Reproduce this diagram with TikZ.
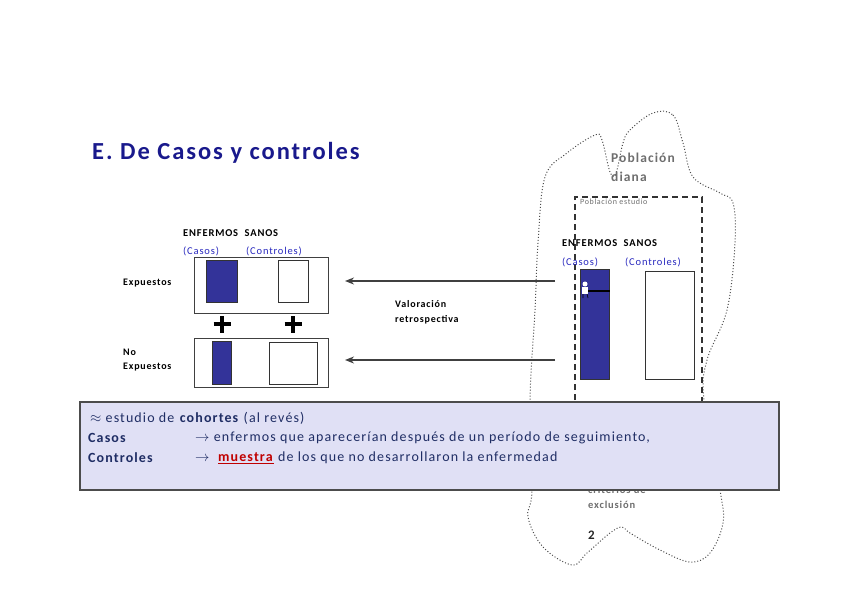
\documentclass[tikz,border=0pt]{standalone}
\usepackage{fontspec}
\setmainfont{Carlito}[LetterSpace=8]
\usetikzlibrary{positioning,arrows.meta}
\usepackage{xcolor}
\definecolor{titleblue}{RGB}{25,25,140}
\definecolor{casoblue}{RGB}{51,51,153}
\definecolor{labblue}{RGB}{40,40,190}
\definecolor{txtgray}{RGB}{110,110,110}
\definecolor{notefill}{RGB}{224,224,245}
\definecolor{notetxt}{RGB}{31,45,100}
\definecolor{darkred}{RGB}{192,0,0}

\begin{document}
\begin{tikzpicture}[x=1pt,y=-1pt,
      grp/.style={draw=black!75,line width=0.9pt,minimum width=134pt,inner sep=0pt},
      caso/.style={draw=black!80,fill=casoblue,line width=0.8pt,inner sep=0pt},
      control/.style={draw=black!80,fill=white,line width=0.8pt,inner sep=0pt},
      lab/.style={anchor=west,inner sep=0pt,align=left,font=\fontsize{10}{14.5}\selectfont\bfseries},
      sub/.style={anchor=west,inner sep=0pt,text=labblue,font=\fontsize{10.5}{12}\selectfont},
      gris/.style={anchor=north west,inner sep=0pt,align=left,text=txtgray,font=\fontsize{10.5}{15}\selectfont\bfseries},
      flecha/.style={-{Stealth[length=9pt,width=7pt]},draw=black!75,line width=2.2pt},
      mas/.style={line width=4pt,black},
      nota/.style={anchor=west,inner sep=0pt,text=notetxt,font=\fontsize{14}{16}\selectfont}
    ]
      \useasboundingbox (0,0) rectangle (848,599);
      % title
      \node[anchor=west,inner sep=0pt,text=titleblue,font=\fontsize{24.5}{28}\selectfont\bfseries] (title) at (92,153) {E. De Casos y controles};
      % poblacion diana / estudio
      \draw[dotted,line width=1pt,black!70] plot[smooth cycle,tension=0.6] coordinates {
        (653,113) (673,115) (683,143) (693,177) (720,193) (733,203) (735,243) (727,310)
        (707,360) (704,400) (720,490) (723,523) (710,553) (690,562) (660,550) (630,533)
        (622,527) (610,533) (587,553) (572,565) (543,547) (528,517) (532,490) (530,400)
        (535,310) (538,243) (545,177) (567,153) (595,135) (602,140) (610,172) (616,173)
        (623,143) (630,130)};
      \node[anchor=north west,inner sep=0pt,align=left,text=txtgray,font=\fontsize{13.5}{19}\selectfont\bfseries] (diana) at (611,153) {Población\\diana};
      \draw[dash pattern=on 6pt off 4pt,line width=1.1pt,black!80] (575,420) -- (575,197) -- (702,197) -- (702,420);
      \node[anchor=west,inner sep=0pt,text=txtgray,font=\fontsize{8}{9}\selectfont] (estudio) at (580,202) {Población estudio};
      \node[lab,font=\fontsize{10.5}{12}\selectfont\bfseries] (enf2) at (562,243) {ENFERMOS\ \ SANOS};
      \node[sub] (cas2) at (562,262) {(Casos)};
      \node[sub] (con2) at (625,262) {(Controles)};
      \node[caso,minimum width=29pt,minimum height=110pt] (bar2) at (594.5,324) {};
      \node[control,minimum width=49pt,minimum height=108pt] (ctl2) at (669.5,325) {};
      % little figure
      \draw[line width=2pt,black] (582,291) -- (610,291);
      \fill[white] (585,284) circle (2.5pt);
      \fill[white] (582,287) rectangle (588,294);
      \draw[black,line width=0.6pt] (583,294) -- (583,298) (587,294) -- (588,298);
      % grupos
      \node[lab,font=\fontsize{10.5}{12}\selectfont\bfseries] (enf1) at (183,233) {ENFERMOS\ \ SANOS};
      \node[sub] (cas1) at (183,251) {(Casos)};
      \node[sub] (con1) at (246,251) {(Controles)};
      \node[grp,minimum height=56pt] (expbox) at (261,285) {};
      \node[caso,minimum width=31pt,minimum height=42pt] (expcas) at (221.5,281) {};
      \node[control,minimum width=30pt,minimum height=42pt] (expcon) at (293,281) {};
      \node[grp,minimum height=49pt] (noexpbox) at (261,362.5) {};
      \node[caso,minimum width=19pt,minimum height=43pt] (noexpcas) at (221.5,362.5) {};
      \node[control,minimum width=48pt,minimum height=42pt] (noexpcon) at (293,363) {};
      \coordinate (mas1) at (222,324);
      \coordinate (mas2) at (293,324);
      \foreach \m in {mas1,mas2}
        \draw[mas] ([yshift=-8.5pt]\m) -- ([yshift=8.5pt]\m) ([xshift=-8.5pt]\m) -- ([xshift=8.5pt]\m);
      \node[lab] (exp) at (123,283) {Expuestos};
      \node[lab] (noexp) at (123,360) {No\\Expuestos};
      \node[lab] (valor) at (395,312.5) {Valoración\\retrospectiva};
      \coordinate (from1) at (555,281);
      \coordinate (to1) at (345,281);
      \coordinate (from2) at (555,360);
      \coordinate (to2) at (345,360);
      \draw[flecha] (from1) -- (to1);
      \draw[flecha] (from2) -- (to2);
      % exclusion
      \node[gris] (excl) at (588,486) {criterios de\\exclusión};
      \node[anchor=west,inner sep=0pt,text=black!85,font=\fontsize{13}{15}\selectfont\bfseries] (pag) at (588,535) {2};
      % nota
      \node[draw=black!70,line width=1.2pt,fill=notefill,minimum width=699pt,minimum height=88pt,inner sep=0pt] (note) at (429.5,446) {};
      \node[nota] (n1) at (90,418) {$\approx$ estudio de \textbf{cohortes} (al revés)};
      \node[nota] (n2) at (88,438) {\textbf{Casos}};
      \node[nota] (n3) at (195,438) {$\rightarrow$ enfermos que aparecerían después de un período de seguimiento,};
      \node[nota] (n4) at (88,458) {\textbf{Controles}};
      \node[nota] (n5) at (195,458) {$\rightarrow$\ \ \textcolor{darkred}{\underline{\textbf{muestra}}} de los que no desarrollaron la enfermedad};
    \end{tikzpicture}
\end{document}
